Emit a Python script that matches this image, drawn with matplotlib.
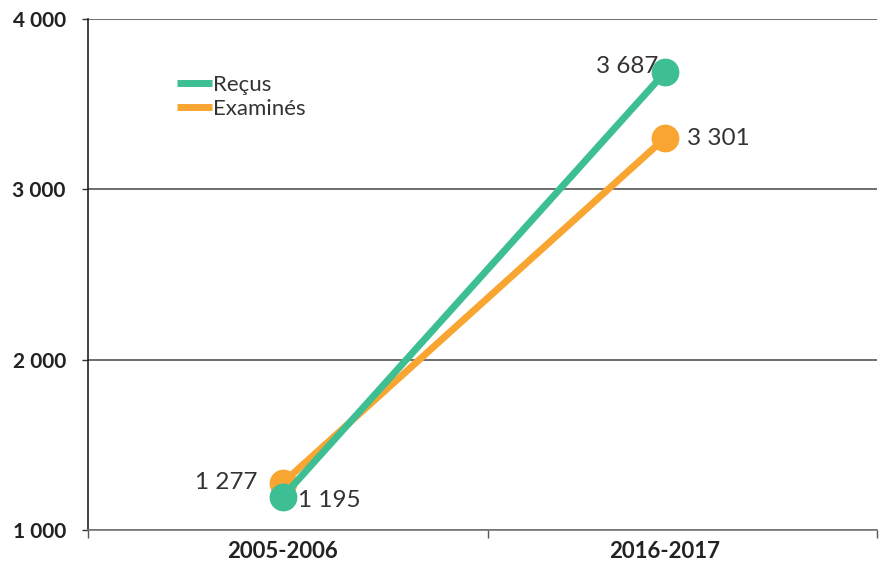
import matplotlib
matplotlib.use("Agg")
import matplotlib.pyplot as plt
from matplotlib.ticker import FixedLocator, FuncFormatter

periods = ["2005-2006", "2016-2017"]
recus = [1195, 3687]
examines = [1277, 3301]
series_names = ["Reçus", "Examinés"]
yticks = [1000, 2000, 3000, 4000]

green = "#3dbf93"
orange = "#f8a531"
plt.rcParams['font.family'] = ['Lato', 'DejaVu Sans']

fig = plt.figure(figsize=(8.82, 5.61), dpi=100)
ax = fig.add_axes([88/882, 31/561, 789/882, 511/561])

x = [0, 1]
ax.plot(x, recus, color=green, lw=5, marker='o', ms=19, label=series_names[0], zorder=4, solid_capstyle='butt')
ax.plot(x, examines, color=orange, lw=5, marker='o', ms=19, label=series_names[1], zorder=3, solid_capstyle='butt')

def fmt(v):
    return f"{v:,}".replace(",", " ")

lab_kw = dict(fontsize=17.5, color="#333333")
ax.annotate(fmt(recus[0]), (0, recus[0]), xytext=(11, -3), textcoords='offset points', ha='left', va='center', zorder=2, **lab_kw)
ax.annotate(fmt(examines[0]), (0, examines[0]), xytext=(-18, 0), textcoords='offset points', ha='right', va='center', zorder=2, **lab_kw)
ax.annotate(fmt(recus[1]), (1, recus[1]), xytext=(-5, 4), textcoords='offset points', ha='right', va='center', zorder=2, **lab_kw)
ax.annotate(fmt(examines[1]), (1, examines[1]), xytext=(16, 0), textcoords='offset points', ha='left', va='center', zorder=2, **lab_kw)

ax.set_xlim(-0.51, 1.555)
ax.set_ylim(1000, 4000)
ax.set_yticks(yticks)
ax.yaxis.set_major_formatter(FuncFormatter(lambda v, p: fmt(int(v))))
ax.tick_params(axis='y', length=4, width=1, color="#333333", pad=12, labelsize=15, labelcolor="#222222")
for lab in ax.get_yticklabels():
    lab.set_fontweight('bold')

ax.set_xticks(x)
ax.set_xticklabels(periods, fontsize=16, fontweight='bold', color="#222222")
ax.tick_params(axis='x', which='major', length=0, pad=8)
ax.xaxis.set_minor_locator(FixedLocator([-0.51, 0.537, 1.555]))
ax.tick_params(axis='x', which='minor', length=6, width=1, color="#555555")

ax.grid(axis='y', color="#555555", lw=1.2)
ax.set_axisbelow(True)
for s in ['top', 'right']:
    ax.spines[s].set_visible(False)
ax.spines['left'].set_color("#222222")
ax.spines['left'].set_linewidth(1.2)
ax.spines['bottom'].set_color("#777777")
ax.spines['bottom'].set_linewidth(1.2)

leg = ax.legend(loc='upper left', bbox_to_anchor=(0.087, 0.93), frameon=False,
                fontsize=16, handlelength=1.6, handletextpad=0.05, labelspacing=0.2,
                labelcolor="#333333")
for h in leg.get_lines():
    h.set_marker('')
    h.set_linewidth(5)

fig.savefig("out.png", dpi=100)
